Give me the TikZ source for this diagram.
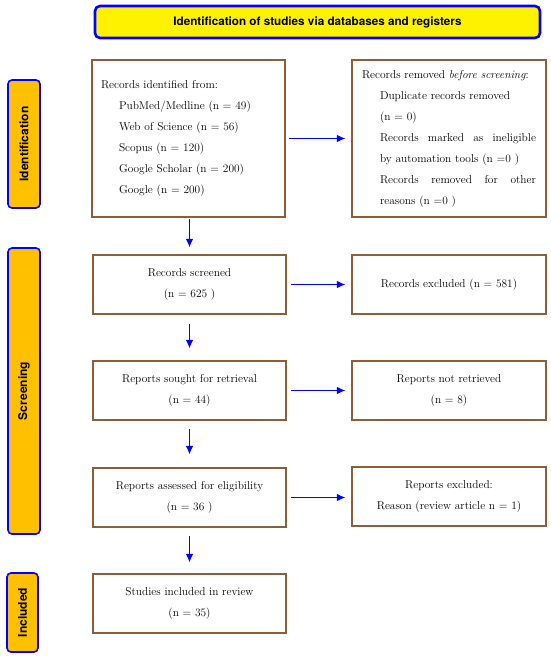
\documentclass[tikz,border=0pt]{standalone}
\usepackage{fontspec}
\newfontfamily\headfont{TeX Gyre Heros}
\usepackage{tikz}
\usetikzlibrary{positioning, fit, arrows.meta}

\definecolor{boxbrown}{RGB}{140,95,60}
\definecolor{stageorange}{RGB}{255,192,0}

\newcommand{\fullline}[1]{\makebox[156pt][s]{\spaceskip=0.3333em plus 1fil\relax #1}}

\tikzset{
  stagebox/.style={draw=blue, line width=1.6pt, fill=stageorange, rounded corners=4pt,
    minimum width=32pt},
  stagetext/.style={rotate=90, font=\headfont\fontsize{12}{14}\selectfont\bfseries},
  flowbox/.style={draw=boxbrown, line width=1.3pt, minimum width=193pt, minimum height=59pt,
    align=center, font=\fontsize{11.4}{21}\selectfont},
  flow/.style={draw=blue, line width=1.1pt, -{Latex[length=8.5pt,width=7.5pt]}}
}

\begin{document}
\begin{tikzpicture}[x=1pt,y=-1pt]
  \useasboundingbox (0,0) rectangle (550,656);
  % header
  \node[draw=blue, line width=2.6pt, fill=yellow, rounded corners=5pt,
        minimum width=445pt, minimum height=32pt,
        font=\headfont\fontsize{11.7}{13}\selectfont\bfseries] (head) at (317.5,22)
        {Identification of studies via databases and registers};
  % stages
  \node[stagebox, minimum height=128pt] (ident) at (24,144) {};
  \node[stagetext] at (ident.center) {Identification};
  \node[stagebox, minimum height=286pt] (screen) at (24,391) {};
  \node[stagetext] at (screen.center) {Screening};
  \node[stagebox, minimum width=31pt, minimum height=79pt] (incl) at (22.5,612.5) {};
  \node[stagetext] at (incl.center) {Included};
  % boxes
  \node[flowbox, minimum height=157pt, text width=175pt, align=left, inner xsep=9pt] (found) at (188.5,138.5)
    {Records identified from:\\
     \hspace*{18pt}PubMed/Medline (n = 49)\\
     \hspace*{18pt}Web of Science (n = 56)\\
     \hspace*{18pt}Scopus (n = 120)\\
     \hspace*{18pt}Google Scholar (n = 200)\\
     \hspace*{18pt}Google (n = 200)};
  \node[flowbox, minimum width=194pt, minimum height=157pt, text width=174pt, align=left, inner xsep=10pt] (removed) at (449,138.5)
    {Records removed \textit{before screening}:\\
     \hspace*{18pt}Duplicate records removed\\
     \hspace*{18pt}(n = 0)\\
     \hspace*{18pt}\fullline{Records marked as ineligible}\\
     \hspace*{18pt}by automation tools (n =0 )\\
     \hspace*{18pt}\fullline{Records removed for other}\\
     \hspace*{18pt}reasons (n =0 )};
  \node[flowbox] (screened) at (189.5,284.5) {Records screened\\(n = 625 )};
  \node[flowbox, minimum width=194pt] (excl) at (449,284.5) {Records excluded (n = 581)};
  \node[flowbox] (sought) at (189.5,390.5) {Reports sought for retrieval\\(n = 44)};
  \node[flowbox, minimum width=194pt] (notret) at (449,390.5) {Reports not retrieved\\(n = 8)};
  \node[flowbox] (assess) at (189.5,497.5) {Reports assessed for eligibility\\(n = 36 )};
  \node[flowbox, minimum width=194pt] (rexcl) at (449,496.5) {Reports excluded:\\Reason (review article n = 1)};
  \node[flowbox] (studies) at (189.5,603.5) {Studies included in review\\(n = 35)};
  % arrows
  \draw[flow, shorten <=3pt, shorten >=6pt] (found) -- (removed);
  \draw[flow, shorten <=4pt, shorten >=6pt] (screened) -- (excl);
  \draw[flow, shorten <=4pt, shorten >=6pt] (sought) -- (notret);
  \draw[flow, shorten <=4pt, shorten >=6pt] (assess.east) -- (assess.east -| rexcl.west);
  \draw[flow, shorten <=1pt, shorten >=7pt] (found.south -| screened.north) -- (screened.north);
  \draw[flow, shorten <=9pt, shorten >=12pt] (screened) -- (sought);
  \draw[flow, shorten <=8pt, shorten >=13pt] (sought) -- (assess);
  \draw[flow, shorten <=8pt, shorten >=11pt] (assess) -- (studies);
\end{tikzpicture}
\end{document}
